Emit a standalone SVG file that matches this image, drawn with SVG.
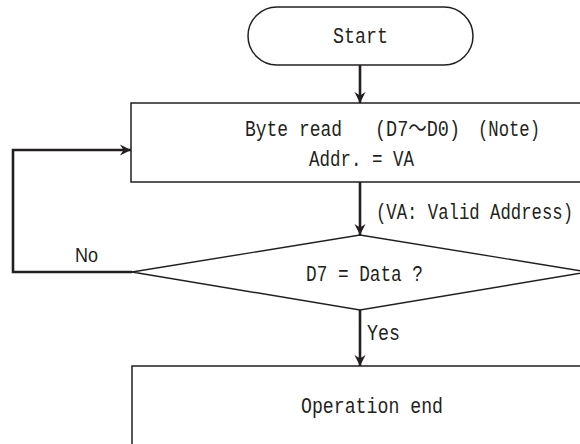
<svg xmlns="http://www.w3.org/2000/svg" width="580" height="444" viewBox="0 0 580 444">
<style>
  .shape { fill: #ffffff; stroke: #231f20; stroke-width: 1.5; }
  .conn { fill: none; stroke: #231f20; stroke-width: 2.6; }
  .t { font-family: "Liberation Mono", "Noto Sans CJK JP", monospace; font-size: 22.5px; fill: #231f20; }
  .s { font-family: "Liberation Sans", Arial, sans-serif; font-size: 21px; fill: #231f20; }
</style>
<defs>
  <marker id="arrow" markerUnits="userSpaceOnUse" markerWidth="12" markerHeight="12" viewBox="0 0 12 12" refX="11" refY="6" orient="auto">
    <path d="M0,0.5 L11,6 L0,11.5 L3.5,6 Z" fill="#231f20"/>
  </marker>
</defs>
<rect width="580" height="444" fill="#ffffff"/>

<g id="start">
  <rect class="shape" x="248" y="7" width="225" height="58" rx="29" ry="29"/>
  <text class="t" x="333" y="43" textLength="55" lengthAdjust="spacingAndGlyphs">Start</text>
</g>

<g id="byte-read">
  <rect class="shape" x="131" y="103" width="470" height="79"/>
  <text class="t" x="245" y="135.5" textLength="97" lengthAdjust="spacingAndGlyphs">Byte read</text>
  <text class="t" x="375" y="135.5" textLength="85" lengthAdjust="spacingAndGlyphs">(D7～D0)</text>
  <text class="t" x="478" y="135.5" textLength="62" lengthAdjust="spacingAndGlyphs">(Note)</text>
  <text class="t" x="309" y="166" textLength="105" lengthAdjust="spacingAndGlyphs">Addr. = VA</text>
</g>

<g id="decision">
  <polygon class="shape" points="132,272 360,235 588,272 360,310" style="stroke-width:1.4"/>
  <text class="t" x="306" y="281" textLength="117" lengthAdjust="spacingAndGlyphs">D7 = Data ?</text>
</g>

<g id="operation-end">
  <rect class="shape" x="132" y="366" width="470" height="100"/>
  <text class="t" x="301" y="413" textLength="142" lengthAdjust="spacingAndGlyphs">Operation end</text>
</g>

<g id="connectors">
  <line class="conn" x1="360" y1="65" x2="360" y2="103" marker-end="url(#arrow)"/>
  <line class="conn" x1="360" y1="182" x2="360" y2="235" marker-end="url(#arrow)"/>
  <line class="conn" x1="360" y1="310" x2="360" y2="366" marker-end="url(#arrow)"/>
  <polyline class="conn" points="132,272 13,272 13,150 131,150" marker-end="url(#arrow)"/>
  <text class="t" x="376" y="218.5" textLength="197" lengthAdjust="spacingAndGlyphs">(VA: Valid Address)</text>
  <text class="s" x="75" y="262" textLength="23" lengthAdjust="spacingAndGlyphs">No</text>
  <text class="t" x="367" y="340" textLength="33" lengthAdjust="spacingAndGlyphs">Yes</text>
</g>
</svg>
